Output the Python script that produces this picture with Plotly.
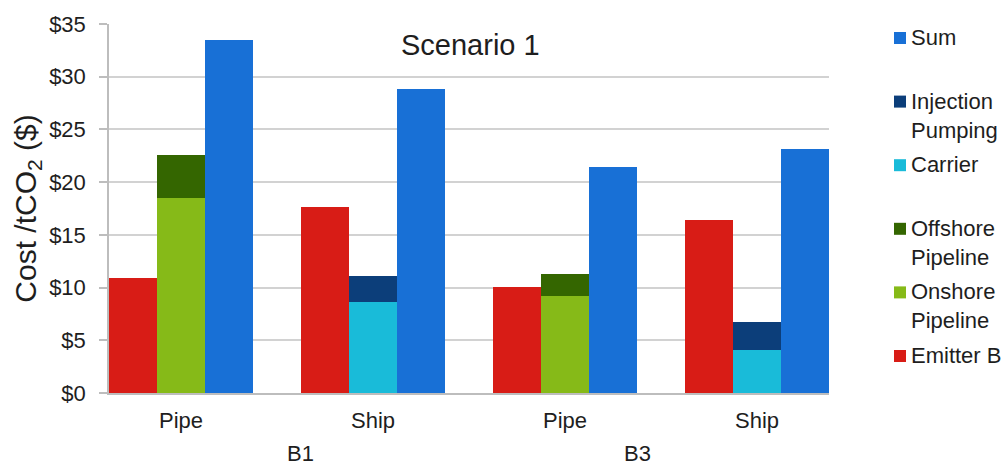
import plotly.graph_objects as go

# ---------------- data ----------------
categories = ["Pipe", "Ship", "Pipe", "Ship"]
group_labels = ["B1", "B3"]
emitter_b = [10.9, 17.6, 10.1, 16.4]
onshore_pipeline = [18.5, None, 9.2, None]
offshore_pipeline = [4.1, None, 2.1, None]
carrier = [None, 8.6, None, 4.1]
injection_pumping = [None, 2.5, None, 2.6]
total_sum = [33.5, 28.8, 21.4, 23.1]
y_ticks = [0, 5, 10, 15, 20, 25, 30, 35]

# ---------------- style ----------------
FONT = "Liberation Sans, Arial, sans-serif"
TXT = "#1e1e1e"
colors = {
    "Sum": "#1870D6",
    "Injection<br>Pumping": "#0C3E7A",
    "Carrier": "#19BBD9",
    "Offshore<br>Pipeline": "#346600",
    "Onshore<br>Pipeline": "#86BA18",
    "Emitter B": "#D81C16",
}
W, H = 1005, 468
ML, MR, MT, MB = 109, 176, 24, 75
PW, PH = W - ML - MR, H - MT - MB
BW = 0.25


def px_x(px):
    return (px - ML) / PW


def px_y(py):
    return (H - MB - py) / PH


def pts(vals, off):
    xs, ys = [], []
    for i, v in enumerate(vals):
        if v is not None:
            xs.append(i + off)
            ys.append(v)
    return xs, ys


fig = go.Figure()
series = [
    ("Emitter B", emitter_b, -BW),
    ("Onshore<br>Pipeline", onshore_pipeline, 0),
    ("Offshore<br>Pipeline", offshore_pipeline, 0),
    ("Carrier", carrier, 0),
    ("Injection<br>Pumping", injection_pumping, 0),
    ("Sum", total_sum, BW),
]
for name, vals, off in series:
    xs, ys = pts(vals, off)
    fig.add_trace(go.Bar(
        x=xs, y=ys, width=BW, name=name.replace("<br>", " "),
        marker=dict(color=colors[name], line=dict(width=0)),
        showlegend=False,
    ))

annotations = []
shapes = []

# title
annotations.append(dict(
    text="Scenario 1", xref="paper", yref="paper",
    x=px_x(470), y=px_y(45), xanchor="center", yanchor="middle",
    showarrow=False, font=dict(size=29, color=TXT, family=FONT),
))

# group labels
for lab, px in zip(group_labels, [300, 637]):
    annotations.append(dict(
        text=lab, xref="paper", yref="paper",
        x=px_x(px), y=px_y(454), xanchor="center", yanchor="middle",
        showarrow=False, font=dict(size=22, color=TXT, family=FONT),
    ))

# manual legend (top to bottom)
legend_order = ["Sum", "Injection<br>Pumping", "Carrier",
                "Offshore<br>Pipeline", "Onshore<br>Pipeline", "Emitter B"]
y0_leg, step_leg = 38, 63.6
for k, name in enumerate(legend_order):
    cy = y0_leg + k * step_leg
    shapes.append(dict(
        type="rect", xref="paper", yref="paper",
        xsizemode="pixel", ysizemode="pixel",
        xanchor=px_x(900), yanchor=px_y(cy),
        x0=-6, x1=6, y0=-6, y1=6,
        fillcolor=colors[name], line=dict(width=0),
    ))
    annotations.append(dict(
        text=name, xref="paper", yref="paper",
        x=px_x(909), y=px_y(cy - 15), xanchor="left", yanchor="top",
        align="left", showarrow=False,
        font=dict(size=22, color=TXT, family=FONT),
    ))

fig.update_layout(
    width=W, height=H,
    margin=dict(l=ML, r=MR, t=MT, b=MB, pad=0, autoexpand=False),
    barmode="stack",
    bargap=0,
    plot_bgcolor="white", paper_bgcolor="white",
    font=dict(family=FONT, color=TXT),
    annotations=annotations,
    shapes=shapes,
    showlegend=False,
    xaxis=dict(
        range=[-1.5 * BW, len(categories) - 1 + 1.5 * BW],
        tickvals=list(range(len(categories))), ticktext=categories,
        showgrid=False, zeroline=False,
        showline=True, linecolor="#BDBDBD", linewidth=1.5,
        ticks="", tickfont=dict(size=22, color=TXT, family=FONT),
        ticklabelstandoff=7,
    ),
    yaxis=dict(
        range=[0, 35], tickvals=y_ticks,
        ticktext=[f"${v}" for v in y_ticks],
        showgrid=True, gridcolor="#D2D2D2", gridwidth=1.5,
        zeroline=False,
        showline=True, linecolor="#BDBDBD", linewidth=1.5,
        ticks="outside", ticklen=8, tickcolor="#BDBDBD", tickwidth=1.5,
        tickfont=dict(size=22, color=TXT, family=FONT),
        ticklabelstandoff=9,
        title=dict(text="Cost /tCO<sub>2</sub> ($)",
                   font=dict(size=30, color=TXT, family=FONT), standoff=4),
    ),
)

fig.write_html(
    "out.html",
    config={"displayModeBar": False},
    post_script="document.body.style.margin='0';document.body.style.overflow='hidden';",
)
